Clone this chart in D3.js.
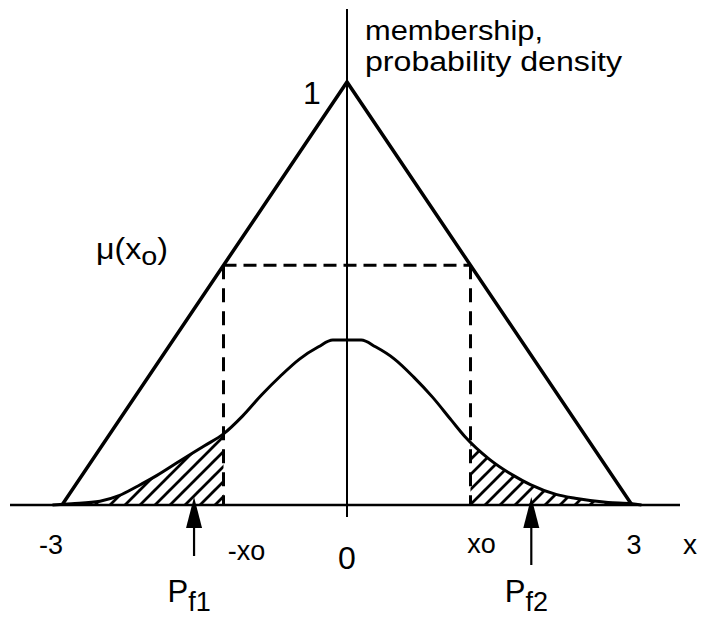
<!DOCTYPE html>
<html>
<head>
<meta charset="utf-8">
<script src="https://cdn.jsdelivr.net/npm/d3@7/dist/d3.min.js"></script>
<style>
  html, body { margin: 0; padding: 0; background: #fff; }
  svg { display: block; }
  text { font-family: "Liberation Sans", Arial, Helvetica, sans-serif; fill: #000; }
</style>
</head>
<body>
<svg id="chart" width="701" height="621"></svg>
<script>
// Triangular membership function: x positions and membership grades
const membershipX = [-3, 0, 3];
const membershipY = [0, 1, 0];

// Probability density curve, read as (x, density) pairs
const densityX = [-3.1, -2.9, -2.6, -2.4, -2.2, -2.0, -1.76, -1.5, -1.3, -1.1, -0.9, -0.7, -0.5, -0.3, -0.15,
                  0.15, 0.3, 0.5, 0.7, 0.9, 1.1, 1.24, 1.5, 1.75, 1.93, 2.2, 2.4, 2.75, 3.0, 3.1];
const densityY = [0.0, 0.003, 0.009, 0.022, 0.045, 0.07, 0.104, 0.14, 0.168, 0.21, 0.26, 0.305, 0.345, 0.374, 0.39,
                  0.39, 0.374, 0.345, 0.303, 0.255, 0.2, 0.162, 0.108, 0.07, 0.048, 0.025, 0.016, 0.006, 0.003, 0.0];

// Threshold x0 and its membership grade mu(x0)
const thresholds = [-1.3, 1.3];
const muX0 = 0.567;

// Tick labels along the x axis
const tickValues = [-3, -1.3, 0, 1.3, 3];
const tickLabels = ["-3", "-xo", "0", "xo", "3"];

// Failure-probability arrows (x position, subscript)
const arrowX = [-1.61, 1.94];
const arrowSub = ["f1", "f2"];

const svg = d3.select("#chart");
const x = d3.scaleLinear().domain([-3, 3]).range([62, 632]);
const y = d3.scaleLinear().domain([0, 1]).range([505, 82]);

const density = densityX.map((d, i) => [d, densityY[i]]);

// Hatch pattern for the tail areas
const h = 15;
const defs = svg.append("defs");
defs.append("pattern")
  .attr("id", "hatch")
  .attr("patternUnits", "userSpaceOnUse")
  .attr("width", h).attr("height", h)
  .append("path")
  .attr("d", `M0,${h} L${h},0 M${-h / 4},${h / 4} L${h / 4},${-h / 4} M${3 * h / 4},${5 * h / 4} L${5 * h / 4},${3 * h / 4}`)
  .attr("stroke", "#000").attr("stroke-width", 2.8);

defs.append("clipPath").attr("id", "tails")
  .selectAll("rect")
  .data([[-4, thresholds[0]], [thresholds[1], 4]])
  .join("rect")
  .attr("x", d => x(d[0]))
  .attr("width", d => x(d[1]) - x(d[0]))
  .attr("y", 0).attr("height", y(0));

// Hatched tails under the density curve
svg.append("path")
  .datum(density)
  .attr("clip-path", "url(#tails)")
  .attr("fill", "url(#hatch)")
  .attr("d", d3.area().x(d => x(d[0])).y0(y(0)).y1(d => y(d[1])).curve(d3.curveMonotoneX));

// Axes
svg.append("line")
  .attr("x1", 10).attr("x2", 680)
  .attr("y1", y(0)).attr("y2", y(0))
  .attr("stroke", "#000").attr("stroke-width", 2.5);
svg.append("line")
  .attr("x1", x(0)).attr("x2", x(0))
  .attr("y1", 9).attr("y2", y(0) + 12)
  .attr("stroke", "#000").attr("stroke-width", 2);

// Dashed construction lines at +/- x0
const dash = svg.append("g")
  .attr("fill", "none").attr("stroke", "#000").attr("stroke-width", 3);
dash.append("line")
  .attr("x1", x(thresholds[0])).attr("x2", x(thresholds[1]))
  .attr("y1", y(muX0)).attr("y2", y(muX0))
  .attr("stroke-dasharray", "13,7");
dash.selectAll("line.v")
  .data(thresholds)
  .join("line").attr("class", "v")
  .attr("x1", d => x(d)).attr("x2", d => x(d))
  .attr("y1", y(muX0)).attr("y2", y(0))
  .attr("stroke-dasharray", "14,9");

// Triangular membership function
svg.append("path")
  .datum(membershipX.map((d, i) => [d, membershipY[i]]))
  .attr("fill", "none").attr("stroke", "#000").attr("stroke-width", 3.5)
  .attr("stroke-linejoin", "miter")
  .attr("d", d3.line().x(d => x(d[0])).y(d => y(d[1])));

// Probability density curve
svg.append("path")
  .datum(density)
  .attr("fill", "none").attr("stroke", "#000").attr("stroke-width", 3)
  .attr("d", d3.line().x(d => x(d[0])).y(d => y(d[1])).curve(d3.curveMonotoneX));

// Arrows pointing at the tail probabilities
const arrows = svg.append("g").selectAll("g").data(arrowX).join("g")
  .attr("transform", d => `translate(${x(d)},${y(0)})`);
arrows.append("line")
  .attr("x1", 0).attr("x2", 0).attr("y1", 20).attr("y2", (d, i) => i === 0 ? 51 : 60)
  .attr("stroke", "#000").attr("stroke-width", 2.2);
arrows.append("path")
  .attr("d", "M0,-8 L-8,23 L8,23 Z")
  .attr("fill", "#000");
const pl = arrows.append("text")
  .attr("x", -5).attr("y", 97)
  .attr("text-anchor", "middle")
  .style("font-size", "31px");
pl.append("tspan").text("P");
pl.append("tspan").attr("dy", 9).style("font-size", "27px").text((d, i) => arrowSub[i]);

// Tick labels
const labelDx = [-11, 23, 0, 11, 2];
const labelDy = [49, 55, 64, 48, 49];
svg.append("g").selectAll("text").data(tickValues).join("text")
  .attr("x", (d, i) => x(d) + labelDx[i])
  .attr("y", (d, i) => y(0) + labelDy[i])
  .attr("text-anchor", "middle")
  .style("font-size", (d, i) => i === 2 ? "32px" : "27px")
  .text((d, i) => tickLabels[i]);

svg.append("text").attr("x", 690).attr("y", y(0) + 49)
  .attr("text-anchor", "middle").style("font-size", "28px").text("x");

// Y-axis value and title
svg.append("text").attr("x", x(0) - 35).attr("y", y(1) + 22)
  .attr("text-anchor", "middle").style("font-size", "32px").text("1");
svg.append("text").attr("x", 365).attr("y", 40)
  .attr("textLength", 178).attr("lengthAdjust", "spacingAndGlyphs")
  .style("font-size", "27px").text("membership,");
svg.append("text").attr("x", 365).attr("y", 71)
  .attr("textLength", 257).attr("lengthAdjust", "spacingAndGlyphs")
  .style("font-size", "27px").text("probability density");

// mu(x0) label at the dashed level
const mu = svg.append("text").attr("x", 96).attr("y", 259)
  .attr("textLength", 72).attr("lengthAdjust", "spacingAndGlyphs")
  .style("font-size", "29px");
mu.append("tspan").text("μ(x");
mu.append("tspan").attr("dy", 6).style("font-size", "26px").text("o");
mu.append("tspan").attr("dy", -6).text(")");
</script>
</body>
</html>
